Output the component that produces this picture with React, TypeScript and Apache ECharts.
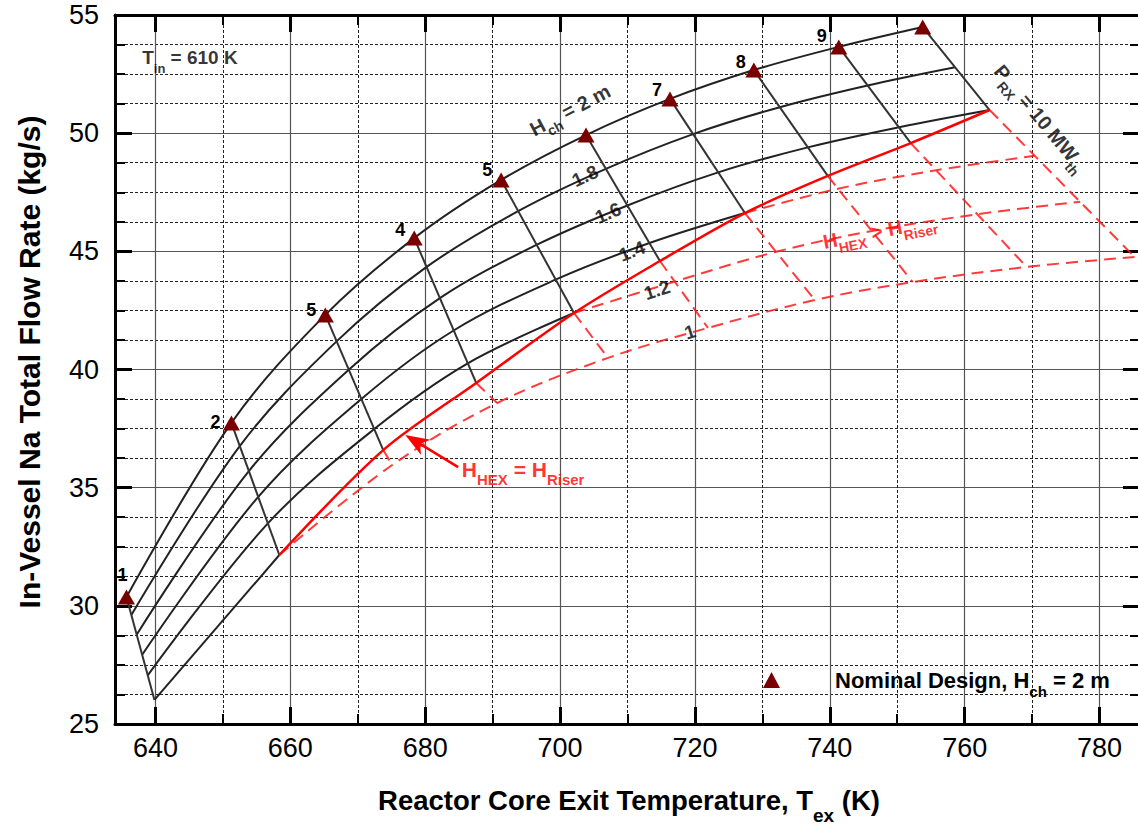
import React, { useEffect, useRef } from 'react';
import * as echarts from 'echarts';

const FONT = '"Liberation Sans", Arial, Helvetica, sans-serif';

// Reactor thermal power levels, MW_th (index k = P - 1)
const powerLevels = [1, 2, 3, 4, 5, 6, 7, 8, 9, 10];
// labels printed beside the nominal-design triangles (as in the figure)
const powerMarks = ['1', '2', '5', '4', '5', '', '7', '8', '9', ''];

// [T_ex (K), in-vessel Na flow (kg/s)] at P = 1..10 MW, one array per chimney height H_ch
const curveH20 = [[635.70, 30.37], [651.26, 37.74], [665.19, 42.31], [678.37, 45.56], [691.26, 48.02], [703.85, 49.92], [716.30, 51.45], [728.74, 52.67], [741.33, 53.65], [753.78, 54.49]];
const curveH18 = [[636.43, 29.61], [652.50, 36.76], [666.86, 41.19], [680.21, 44.34], [693.78, 46.70], [706.79, 48.49], [719.73, 49.96], [732.58, 51.10], [745.61, 52.02], [758.59, 52.79]];
const curveH16 = [[637.21, 28.78], [653.85, 35.70], [668.67, 39.99], [682.18, 43.02], [696.50, 45.27], [709.99, 46.94], [723.45, 48.34], [736.74, 49.40], [750.27, 50.25], [763.70, 50.98]];
const curveH14 = [[638.03, 27.93], [655.24, 34.61], [670.53, 38.75], [684.22, 41.65], [699.32, 43.80], [713.26, 45.35], [727.41, 46.62], [741.21, 47.65], [755.76, 48.43], [770.37, 49.04]];
const curveH12 = [[638.86, 27.06], [656.67, 33.49], [672.44, 37.48], [686.31, 40.26], [702.07, 42.39], [717.01, 43.72], [732.03, 44.98], [746.25, 45.86], [761.87, 46.57], [777.13, 47.10]];
const curveH10 = [[639.85, 26.02], [658.37, 32.15], [675.11, 35.96], [690.67, 38.58], [707.11, 40.49], [721.93, 41.76], [737.78, 42.94], [752.30, 43.70], [769.19, 44.34], [785.19, 44.76]];
const chimneyHeights = ['2', '1.8', '1.6', '1.4', '1.2', '1'];
// last power index drawn solid (H_HEX <= H_Riser side) for each chimney height
const solidUntil = [9, 9, 9, 6, 4, 1];

// H_HEX = H_Riser boundary at P = 2..10 MW
const boundary = [[658.37, 32.15], [673.78, 36.59], [687.56, 39.43], [702.07, 42.39], [714.81, 44.59], [727.41, 46.62], [739.70, 48.19], [752.00, 49.58], [763.70, 50.98]];

// annotation texts and their anchors (data coordinates)
const noteText = [
  '{km|H}{ks|ch}{km| = 2 m}',
  '{nm|1.8}', '{nm|1.6}', '{nm|1.4}', '{nm|1.2}', '{nm|1}',
  '{km|P}{ks|RX}{km| = 10 MW}{ks|th}',
  '{rm|H}{rs|HEX}{rm| > H}{rs|Riser}',
  '{qm|H}{qs|HEX}{qm| = H}{qs|Riser}',
  '{tm|T}{ts|in}{tm| = 610 K}',
];
const noteAt = [[701.48, 50.98], [703.70, 48.19], [707.11, 46.62], [710.67, 45.01], [714.37, 43.36], [719.26, 41.59], [771.26, 50.64], [747.41, 45.86], [694.52, 35.75], [645.11, 53.20]];
const noteRotate = [28, 25, 23, 21, 18, 17, -50, 11, 0, 0];
// arrow pointing at the H_HEX = H_Riser line: [fromT, fromF, tipT, tipF]
const arrow = [684.89, 35.87, 677.04, 37.23];
const markOffsets = [[-4, -22], [-16, -1], [-14, -5], [-14, -8], [-14, -10], [0, 0], [-13, -9], [-13, -8], [-17, -11], [0, 0]];

function richSet(prefix: string, H: number, h: number, d: number, color: string) {
  const P = Math.round(d + 0.85 * (H - h));
  return {
    [prefix + 'm']: { fontSize: H, fontWeight: 'bold', fontFamily: FONT, color, fill: color, height: H, lineHeight: H, verticalAlign: 'top' },
    [prefix + 's']: { fontSize: h, fontWeight: 'bold', fontFamily: FONT, color, fill: color, height: h, lineHeight: H, verticalAlign: 'top', padding: [P, 0, 0, 0] },
  };
}

export default function App() {
  const ref = useRef<HTMLDivElement>(null);
  useEffect(() => {
    const chart = echarts.init(ref.current!, null, { renderer: 'svg' });
    const curves = [curveH20, curveH18, curveH16, curveH14, curveH12, curveH10];
    const black = '#222';
    const red = '#ff0000';
    const redDash = { color: 'rgba(255,25,25,0.85)', width: 2, type: [12, 7] };
    const base: any = { type: 'line', symbol: 'none', silent: true, animation: false, emphasis: { disabled: true } };
    const series: any[] = [];
    curves.forEach((c, i) => {
      series.push({ ...base, name: 'H_ch ' + chimneyHeights[i], data: c.slice(0, solidUntil[i] + 1), smooth: 0.35, lineStyle: { color: black, width: 2 }, z: 3 });
      if (solidUntil[i] < c.length - 1) {
        series.push({ ...base, data: c.slice(solidUntil[i]), smooth: 0.35, lineStyle: redDash, z: 3 });
      }
    });
    powerLevels.forEach((p, k) => {
      const top = curveH20[k];
      const bottom = curveH10[k];
      if (k === 0) {
        series.push({ ...base, data: [top, bottom], lineStyle: { color: '#333', width: 2 }, z: 3 });
        return;
      }
      const b = boundary[k - 1];
      series.push({ ...base, data: [top, b], lineStyle: { color: '#333', width: 2 }, z: 3 });
      if (k > 1) series.push({ ...base, data: [b, bottom], lineStyle: redDash, z: 3 });
    });
    series.push({ ...base, data: boundary, smooth: 0.3, lineStyle: { color: red, width: 2.5 }, z: 4 });
    series.push({
      type: 'custom',
      silent: true,
      animation: false,
      z: 5,
      encode: { x: [0, 2], y: [1, 3] },
      data: [arrow],
      renderItem: (params: any, api: any) => {
        const a = api.coord([api.value(0), api.value(1)]);
        const b = api.coord([api.value(2), api.value(3)]);
        const dx = b[0] - a[0];
        const dy = b[1] - a[1];
        const L = Math.hypot(dx, dy);
        const ux = dx / L;
        const uy = dy / L;
        const px = -uy;
        const py = ux;
        const headLen = 24;
        const headW = 9;
        const bx = b[0] - ux * headLen;
        const by = b[1] - uy * headLen;
        const nx = b[0] - ux * headLen * 0.72;
        const ny = b[1] - uy * headLen * 0.72;
        return {
          type: 'group',
          children: [
            { type: 'line', shape: { x1: a[0], y1: a[1], x2: nx, y2: ny }, style: { stroke: red, lineWidth: 2.5 } },
            {
              type: 'polygon',
              shape: { points: [[b[0], b[1]], [bx + px * headW, by + py * headW], [nx, ny], [bx - px * headW, by - py * headW]] },
              style: { fill: red },
            },
          ],
        };
      },
    });
    series.push({
      type: 'scatter',
      name: 'Nominal Design',
      silent: true,
      animation: false,
      symbol: 'triangle',
      symbolSize: [17, 15],
      itemStyle: { color: '#7a0000', opacity: 1 },
      z: 6,
      label: { show: true, position: 'inside', color: '#000', fontSize: 18, fontWeight: 'bold', fontFamily: FONT, textBorderWidth: 0 },
      data: curveH20.map((v, k) => ({
        value: v,
        label: { show: powerMarks[k] !== '', formatter: powerMarks[k] || ' ', offset: markOffsets[k] },
      })),
    });
    const rich = {
      ...richSet('k', 20, 14, 7, '#000'),
      ...richSet('n', 19, 12, 6, '#000'),
      ...richSet('r', 20, 14, 7, '#ff0000'),
      ...richSet('q', 21, 15, 8, '#ff0000'),
      ...richSet('t', 19, 13, 9, '#000'),
    };
    series.push({
      type: 'scatter',
      silent: true,
      animation: false,
      symbol: 'circle',
      symbolSize: 1,
      itemStyle: { color: 'rgba(0,0,0,0)' },
      z: 7,
      label: { show: true, position: 'inside', formatter: (p: any) => p.data.text, rich, textBorderWidth: 0 },
      data: noteAt.map((v, i) => ({ value: v, text: noteText[i], label: { rotate: noteRotate[i] } })),
    });

    const axisCommonX: any = {
      type: 'value', min: 634, max: 786, minInterval: 20, maxInterval: 20, splitNumber: 8,
      axisLine: { show: true, onZero: false, lineStyle: { color: '#000', width: 3 } },
      axisTick: { show: true, inside: true, length: 17, lineStyle: { color: '#000', width: 3 } },
      minorTick: { show: true, splitNumber: 2, length: 10, lineStyle: { color: '#000', width: 2 } },
    };
    const axisCommonY: any = {
      type: 'value', min: 25, max: 55, interval: 5,
      axisLine: { show: true, onZero: false, lineStyle: { color: '#000', width: 3 } },
      axisTick: { show: true, inside: true, length: 17, lineStyle: { color: '#000', width: 3 } },
      minorTick: { show: true, splitNumber: 4, length: 10, lineStyle: { color: '#000', width: 2 } },
    };
    const labelStyle = { fontSize: 27, color: '#000', fontFamily: FONT };
    const richX = richSet('x', 27.5, 19, 13, '#000');
    const richL = {
      ...richSet('l', 22, 15, 9, '#000'),
      lg: { fontSize: 22, fontWeight: 'bold', fontFamily: FONT, color: '#000', height: 22, lineHeight: 22, verticalAlign: 'top', padding: [0, 0, 0, 50] },
    };

    chart.setOption({
      animation: false,
      textStyle: { fontFamily: FONT },
      grid: { left: 115, top: 15, width: 1025, height: 709, containLabel: false, outerBoundsMode: 'none' },
      legend: {
        show: true,
        left: 758,
        top: 664,
        itemWidth: 17,
        itemHeight: 16,
        icon: 'triangle',
        selectedMode: false,
        data: ['Nominal Design'],
        formatter: () => '{lg|Nominal Design, H}{ls|ch}{lm| = 2 m}',
        textStyle: { rich: richL },
      },
      xAxis: [
        {
          ...axisCommonX,
          position: 'bottom',
          axisLabel: { ...labelStyle, margin: 10, showMinLabel: false, showMaxLabel: false },
          splitLine: { show: true, lineStyle: { color: '#555', width: 1.2 } },
          minorSplitLine: { show: true, lineStyle: { color: '#222', width: 1, type: [3, 2] } },
        },
        { ...axisCommonX, position: 'top', axisLabel: { show: false }, splitLine: { show: false }, minorSplitLine: { show: false } },
      ],
      yAxis: [
        {
          ...axisCommonY,
          position: 'left',
          axisLabel: { ...labelStyle, margin: 16 },
          splitLine: { show: true, lineStyle: { color: '#555', width: 1.2 } },
          minorSplitLine: { show: true, lineStyle: { color: '#222', width: 1, type: [3, 2] } },
        },
        { ...axisCommonY, position: 'right', axisLabel: { show: false }, splitLine: { show: false }, minorSplitLine: { show: false } },
      ],
      graphic: [
        {
          type: 'text', x: 629, y: 800, silent: true,
          style: { text: '{xm|Reactor Core Exit Temperature, T}{xs|ex}{xm| (K)}', rich: richX, align: 'center', verticalAlign: 'middle', fill: '#000' },
        },
        {
          type: 'text', x: 29, y: 362, rotation: Math.PI / 2, silent: true,
          style: { text: 'In-Vessel Na Total Flow Rate (kg/s)', fill: '#000', font: `bold 30px ${FONT}`, align: 'center', verticalAlign: 'middle' },
        },
      ],
      series,
    });
    return () => chart.dispose();
  }, []);
  return <div ref={ref} style={{ position: 'absolute', left: 0, top: 0, width: 1138, height: 830 }} />;
}
